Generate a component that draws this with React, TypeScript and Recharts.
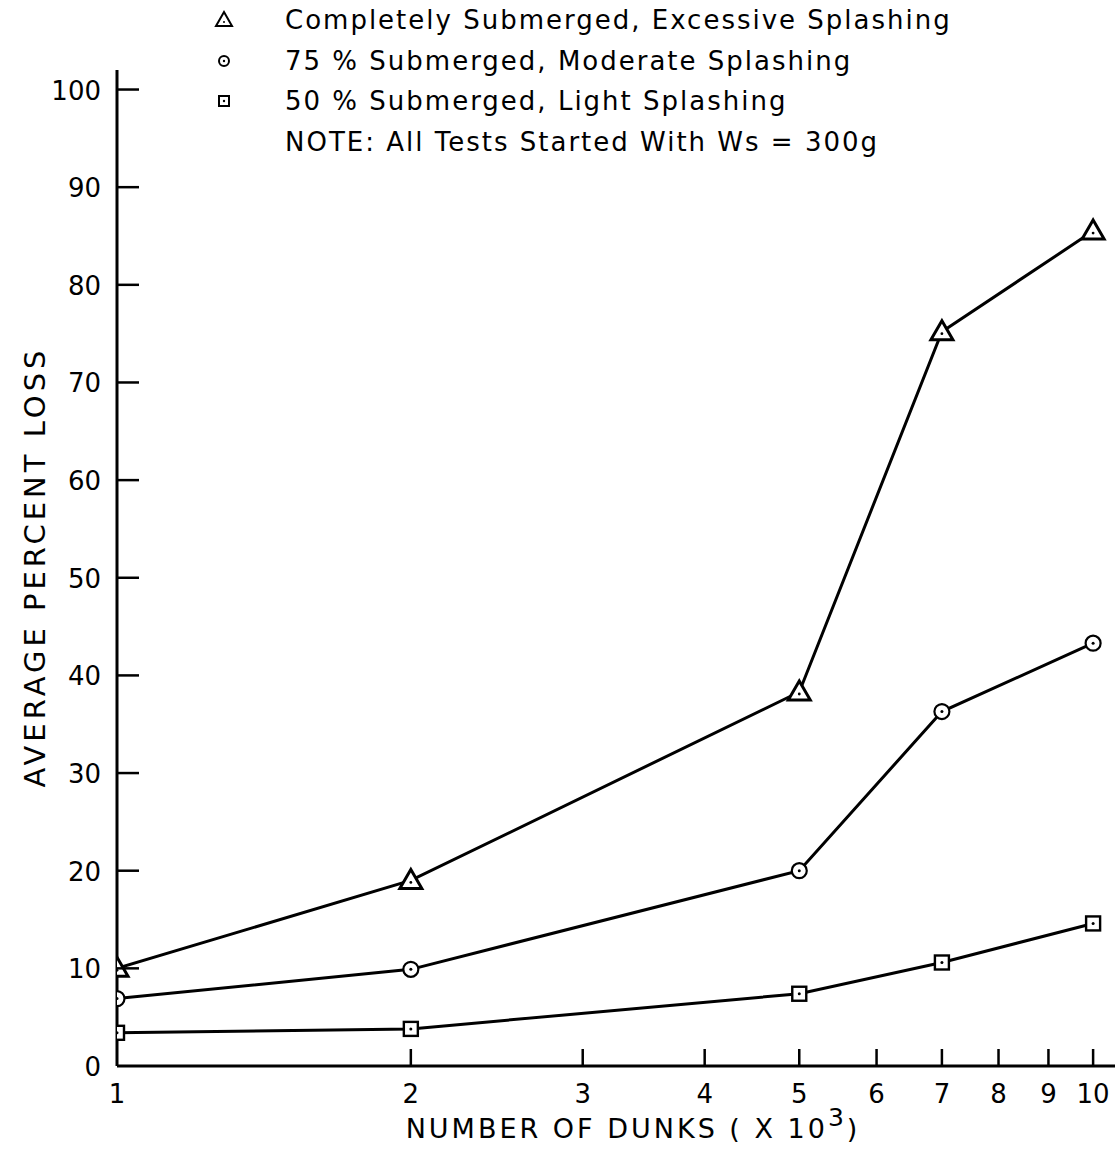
import React from "react";
import { LineChart, Line, XAxis, YAxis } from "recharts";

const dunks = [1, 2, 5, 7, 10];
const completelySubmerged = [10, 19, 38.3, 75.2, 85.5];
const submerged75 = [6.9, 9.9, 20, 36.3, 43.3];
const submerged50 = [3.4, 3.8, 7.4, 10.6, 14.6];
const xTicks = [1, 2, 3, 4, 5, 6, 7, 8, 9, 10];
const yTicks = [0, 10, 20, 30, 40, 50, 60, 70, 80, 90, 100];
const legendLabels = [
  "Completely Submerged, Excessive Splashing",
  "75 % Submerged, Moderate Splashing",
  "50 % Submerged, Light Splashing",
];
const noteText = "NOTE: All Tests Started With Ws = 300g";

const data = dunks.map((d, i) => ({
  x: d,
  tri: completelySubmerged[i],
  circ: submerged75[i],
  sq: submerged50[i],
}));

const FONT = "'DejaVu Sans', sans-serif";
const SW = 3;

const TriDot = (p: any) => {
  const { cx, cy } = p;
  if (cx == null || cy == null) return null;
  return (
    <g key={p.key}>
      <path d={`M${cx},${cy - 11} L${cx + 11},${cy + 8} L${cx - 11},${cy + 8} Z`} fill="#fff" stroke="#000" strokeWidth={SW} strokeLinejoin="miter" />
      <circle cx={cx} cy={cy + 2} r={1.4} fill="#000" />
    </g>
  );
};
const CircDot = (p: any) => {
  const { cx, cy } = p;
  if (cx == null || cy == null) return null;
  return (
    <g key={p.key}>
      <circle cx={cx} cy={cy} r={7.5} fill="#fff" stroke="#000" strokeWidth={2.2} />
      <circle cx={cx} cy={cy} r={1.5} fill="#000" />
    </g>
  );
};
const SqDot = (p: any) => {
  const { cx, cy } = p;
  if (cx == null || cy == null) return null;
  return (
    <g key={p.key}>
      <rect x={cx - 7} y={cy - 7} width={14} height={14} fill="#fff" stroke="#000" strokeWidth={2.4} />
      <circle cx={cx} cy={cy} r={1.5} fill="#000" />
    </g>
  );
};

const XTick = (p: any) => {
  const { x, y, payload } = p;
  return (
    <g>
      {payload.value !== 1 && <line x1={x} x2={x} y1={y} y2={y - 17} stroke="#000" strokeWidth={2.5} />}
      <text x={x} y={y + 37} textAnchor="middle" fontFamily={FONT} fontSize={26} fill="#000">
        {payload.value}
      </text>
    </g>
  );
};
const YTick = (p: any) => {
  const { x, y, payload } = p;
  return (
    <g>
      {payload.value !== 0 && <line x1={x} x2={x + 22} y1={y} y2={y} stroke="#000" strokeWidth={2.5} />}
      <text x={x - 16} y={y + 10} textAnchor="end" fontFamily={FONT} fontSize={26} fill="#000">
        {payload.value}
      </text>
    </g>
  );
};

const LegendBlock = () => {
  const symbols = [
    <g key="t"><path d="M12,3 L20,17 L4,17 Z" fill="#fff" stroke="#000" strokeWidth={2} /><circle cx={12} cy={13} r={1} fill="#000" /></g>,
    <g key="c"><circle cx={12} cy={11} r={5} fill="#fff" stroke="#000" strokeWidth={2} /><circle cx={12} cy={11} r={1.2} fill="#000" /></g>,
    <g key="s"><rect x={7} y={6} width={10} height={10} fill="#fff" stroke="#000" strokeWidth={2} /><circle cx={12} cy={11} r={1.2} fill="#000" /></g>,
  ];
  const rows = [...legendLabels, noteText];
  return (
    <div style={{ position: "absolute", left: 0, top: 0, fontFamily: FONT, fontSize: 26, color: "#000", letterSpacing: 2 }}>
      {rows.map((label, i) => (
        <div key={i} style={{ position: "absolute", left: 0, top: i * 40.5, height: 40, display: "flex", alignItems: "center", whiteSpace: "nowrap" }}>
          <svg width={24} height={22} style={{ marginLeft: 212, marginRight: 49, visibility: i < 3 ? "visible" : "hidden" }}>
            {i < 3 ? symbols[i] : null}
          </svg>
          <span>{label}</span>
        </div>
      ))}
    </div>
  );
};

const XLabel = (p: any) => {
  const vb = p.viewBox || {};
  const cx = vb.x + 516;
  const y = vb.y + 72;
  return (
    <text x={cx} y={y} textAnchor="middle" fontFamily={FONT} fontSize={27} fill="#000" letterSpacing={3}>
      NUMBER OF DUNKS ( X 10
      <tspan dy={-12} fontSize={25}>3</tspan>
      <tspan dy={12}>)</tspan>
    </text>
  );
};
const YLabel = (p: any) => {
  const vb = p.viewBox || {};
  const x = 45;
  const y = vb.y + 497;
  return (
    <text x={x} y={y} transform={`rotate(-90 ${x} ${y})`} textAnchor="middle" fontFamily={FONT} fontSize={29} fill="#000" letterSpacing={4}>
      AVERAGE PERCENT LOSS
    </text>
  );
};

export default function App() {
  return (
    <div style={{ position: "absolute", left: 0, top: 0, width: 1115, height: 1151, background: "#fff" }}>
      <LineChart width={1115} height={1151} data={data} margin={{ top: 70, right: 0, bottom: 25, left: 0 }}>
        <XAxis
          dataKey="x"
          type="number"
          scale="log"
          domain={[1, 10.53]}
          allowDataOverflow
          ticks={xTicks}
          interval={0}
          tickSize={0}
          tickMargin={0}
          tickLine={false}
          tick={<XTick />}
          axisLine={{ stroke: "#000", strokeWidth: 3 }}
          height={60}
          label={<XLabel />}
        />
        <YAxis
          type="number"
          domain={[0, 102]}
          ticks={yTicks}
          interval={0}
          tickSize={0}
          tickMargin={0}
          tickLine={false}
          tick={<YTick />}
          axisLine={{ stroke: "#000", strokeWidth: 3 }}
          width={117}
          label={<YLabel />}
        />
        <Line dataKey="sq" stroke="#000" strokeWidth={SW} dot={SqDot} isAnimationActive={false} />
        <Line dataKey="circ" stroke="#000" strokeWidth={SW} dot={CircDot} isAnimationActive={false} />
        <Line dataKey="tri" stroke="#000" strokeWidth={SW} dot={TriDot} isAnimationActive={false} />
      </LineChart>
      <LegendBlock />
    </div>
  );
}
